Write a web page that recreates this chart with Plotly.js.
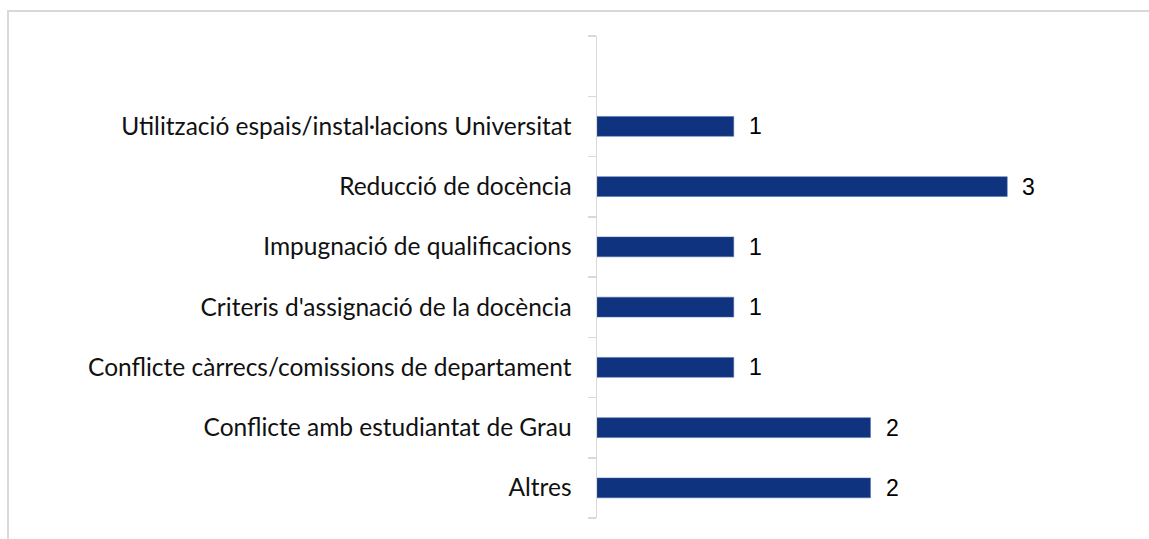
<!DOCTYPE html>
<html>
<head>
<meta charset="utf-8">
<script src="https://cdn.plot.ly/plotly-3.0.1.min.js"></script>
<style>
html,body{margin:0;padding:0;background:#fff;}
#chart{width:1149px;height:539px;}
#frame{position:absolute;left:7px;top:10px;width:1160px;height:560px;border-left:2px solid #d9d9d9;border-top:2px solid #d9d9d9;pointer-events:none;}
</style>
</head>
<body>
<div id="chart"></div>
<div id="frame"></div>
<script>
const categories = [
  "Altres",
  "Conflicte amb estudiantat de Grau",
  "Conflicte càrrecs/comissions de departament",
  "Criteris d'assignació de la docència",
  "Impugnació de qualificacions",
  "Reducció de docència",
  "Utilització espais/instal·lacions Universitat"
];
const values = [2, 2, 1, 1, 1, 3, 1];
const emptySlot = " ";

const trace = {
  type: 'bar',
  orientation: 'h',
  x: values,
  y: categories,
  marker: {color: '#10337f', line: {color: '#4a6cb0', width: 0.5}},
  width: 0.33,
  hoverinfo: 'none'
};

const annotations = categories.map((c, i) => ({
  x: values[i], y: c, xref: 'x', yref: 'y',
  text: String(values[i]), showarrow: false,
  xanchor: 'left', xshift: 13,
  font: {family: 'Liberation Sans, Arial, sans-serif', size: 23, color: '#000'}
}));

const layout = {
  width: 1149, height: 539,
  margin: {l: 597, r: 5, t: 36, b: 21},
  paper_bgcolor: '#fff', plot_bgcolor: '#fff',
  showlegend: false,
  xaxis: {range: [0, 4], showgrid: false, zeroline: false, showline: false, showticklabels: false, ticks: ''},
  yaxis: {
    type: 'category',
    categoryorder: 'array',
    categoryarray: categories.concat([emptySlot]),
    range: [-0.5, 7.5],
    showline: true, linecolor: '#d9d9d9', linewidth: 1.5,
    ticks: 'outside', ticklen: 8, tickcolor: '#d9d9d9', tickwidth: 1.5,
    tickson: 'boundaries',
    showgrid: false, zeroline: false,
    ticklabelstandoff: 19,
    tickfont: {family: 'Lato, Noto Sans, sans-serif', size: 24.5, color: '#111'}
  },
  annotations: annotations
};

Plotly.newPlot('chart', [trace], layout, {displayModeBar: false, staticPlot: true});
</script>
</body>
</html>
